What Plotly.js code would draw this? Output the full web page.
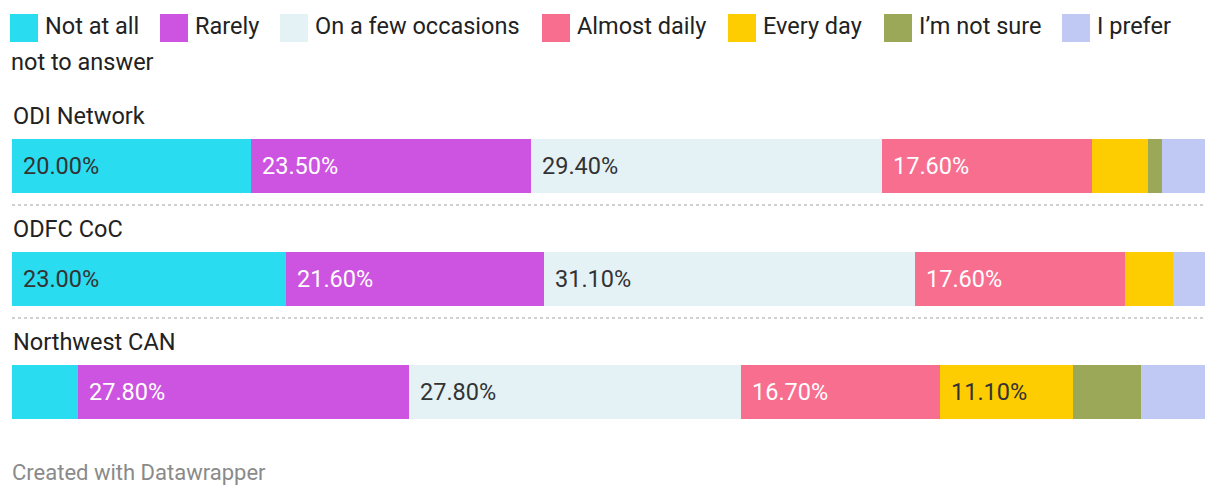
<!DOCTYPE html>
<html>
<head>
<meta charset="utf-8">
<script src="https://cdn.plot.ly/plotly-3.0.1.min.js"></script>
<style>
  html, body { margin: 0; padding: 0; background: #fff; }
  #chart { width: 1220px; height: 496px; }
</style>
</head>
<body>
<div id="chart"></div>
<script>
// ---- Data ----
const groups = ['ODI Network', 'ODFC CoC', 'Northwest CAN'];
const categories = ['Not at all', 'Rarely', 'On a few occasions', 'Almost daily', 'Every day', 'I’m not sure', 'I prefer not to answer'];
const notAtAll     = [20.0, 23.0, 5.5];
const rarely       = [23.5, 21.6, 27.8];
const fewOccasions = [29.4, 31.1, 27.8];
const almostDaily  = [17.6, 17.6, 16.7];
const everyDay     = [4.7, 4.0, 11.1];
const notSure      = [1.2, 0.0, 5.7];
const preferNot    = [3.6, 2.7, 5.4];
const footerText = 'Created with Datawrapper';

// ---- Styles ----
const colors = ['#2adcf0', '#cc54e0', '#e4f2f6', '#f76e8f', '#fdcd02', '#9aa857', '#c0c8f4'];
const textColors = ['#333333', '#ffffff', '#333333', '#ffffff', '#333333', '#333333', '#333333'];
const FONT = 'Roboto, "Noto Sans", sans-serif';

const series = [notAtAll, rarely, fewOccasions, almostDaily, everyDay, notSure, preferNot];
const yIdx = groups.map((g, i) => i);

const W = 1220, H = 496, ML = 12, MR = 15;
const PW = W - ML - MR;
const px = p => (p - ML) / PW;      // pixel -> paper x
const py = p => 1 - p / H;          // pixel -> paper y

const traces = series.map((vals, k) => ({
  type: 'bar',
  orientation: 'h',
  name: categories[k],
  x: vals,
  y: yIdx,
  width: 0.47,
  marker: { color: colors[k], line: { width: 0 } },
  hoverinfo: 'skip'
}));

const annotations = [];
const shapes = [];

// value labels inside segments
groups.forEach((g, i) => {
  let base = 0;
  series.forEach((vals, k) => {
    const v = vals[i];
    if (v >= 10) {
      annotations.push({
        x: base, y: i, xref: 'x', yref: 'y',
        text: v.toFixed(2) + '%', showarrow: false,
        xanchor: 'left', yanchor: 'middle', xshift: 9,
        font: { family: FONT, size: 23.5, color: textColors[k] }
      });
    }
    base += v;
  });
  // group title
  annotations.push({
    x: 0, y: i - 0.44, xref: 'x', yref: 'y',
    text: g, showarrow: false, xanchor: 'left', yanchor: 'middle', xshift: -1,
    font: { family: FONT, size: 23.5, color: '#222222' }
  });
  if (i < groups.length - 1) {
    shapes.push({
      type: 'line', xref: 'x', yref: 'y', x0: 0, x1: 100.25, y0: i + 0.345, y1: i + 0.345,
      line: { color: '#d0d0d0', width: 2, dash: 'dot' }
    });
  }
});

// custom legend
const legendSwatchX = [10, 160, 280, 542, 728, 884, 1062];
const legendLabels = ['Not at all', 'Rarely', 'On a few occasions', 'Almost daily', 'Every day', 'I’m not sure', 'I prefer'];
categories.forEach((c, k) => {
  shapes.push({
    type: 'rect', xref: 'paper', yref: 'paper',
    x0: px(legendSwatchX[k]), x1: px(legendSwatchX[k] + 28),
    y0: py(42), y1: py(14),
    fillcolor: colors[k], line: { width: 0 }
  });
  annotations.push({
    x: px(legendSwatchX[k] + 33), y: py(26), xref: 'paper', yref: 'paper',
    text: legendLabels[k], showarrow: false, xanchor: 'left', yanchor: 'middle',
    font: { family: FONT, size: 23.5, color: '#222222' }
  });
});
annotations.push({
  x: px(9), y: py(62), xref: 'paper', yref: 'paper',
  text: 'not to answer', showarrow: false, xanchor: 'left', yanchor: 'middle',
  font: { family: FONT, size: 23.5, color: '#222222' }
});
// footer
annotations.push({
  x: px(10), y: py(472), xref: 'paper', yref: 'paper',
  text: footerText, showarrow: false, xanchor: 'left', yanchor: 'middle',
  font: { family: FONT, size: 22, color: '#8a8a8a' }
});

const layout = {
  width: W, height: H,
  margin: { l: ML, r: MR, t: 0, b: 0, pad: 0 },
  barmode: 'stack',
  bargap: 0,
  showlegend: false,
  paper_bgcolor: '#ffffff',
  plot_bgcolor: '#ffffff',
  xaxis: { range: [0, 100], visible: false, fixedrange: true },
  yaxis: { range: [2.92, -1.469], visible: false, fixedrange: true },
  annotations: annotations,
  shapes: shapes
};

Plotly.newPlot('chart', traces, layout, { displayModeBar: false, staticPlot: true });
</script>
</body>
</html>
